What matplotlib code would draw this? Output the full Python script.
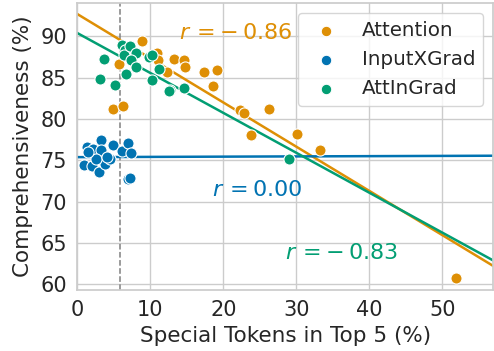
import numpy as np
import matplotlib
matplotlib.use("Agg")
import matplotlib.pyplot as plt
import seaborn as sns

sns.set_theme(style="whitegrid")
plt.rcParams['font.family'] = ['DejaVu Sans']

# Attention
att_x = [8.8, 5.75, 4.85, 6.2, 10.9, 11.1, 12.3, 13.2, 14.6, 14.8, 17.4, 19.1, 18.6,
         22.3, 22.9, 26.3, 23.8, 30.1, 33.3, 51.9]
att_y = [89.4, 86.7, 81.2, 81.6, 88.0, 87.1, 85.7, 87.3, 87.1, 86.3, 85.7, 85.9, 84.0,
         81.1, 80.7, 81.2, 78.1, 78.2, 76.2, 60.8]
# InputXGrad
ixg_x = [1.3, 2.1, 3.3, 3.3, 4.85, 0.95, 2.05, 3.0, 3.8, 4.5, 2.5, 6.1, 6.9, 7.35,
         7.0, 7.2, 1.5, 4.0]
ixg_y = [76.6, 76.4, 77.5, 76.3, 76.85, 74.4, 74.3, 73.6, 74.6, 75.1, 75.2, 76.1, 77.1,
         75.85, 72.7, 72.8, 76.0, 75.4]
# AttInGrad
aig_x = [6.1, 6.5, 6.4, 7.2, 8.1, 7.4, 9.8, 8.1, 6.7, 3.6, 3.1, 5.1, 10.3, 11.2,
         10.2, 12.7, 12.5, 14.6, 29.0]
aig_y = [89.0, 88.4, 87.7, 88.8, 88.0, 87.1, 87.5, 86.3, 85.5, 87.2, 84.8, 84.1, 84.7,
         86.1, 87.7, 83.5, 83.4, 83.7, 75.2]

labels = ["Attention", "InputXGrad", "AttInGrad"]
# fitted trend lines
trend_intercept = [92.7, 75.38, 90.4]
trend_slope = [-0.535, 0.003, -0.483]
r_texts = [r"$r\,= -\:0.86$", r"$r\,= 0.00$", r"$r\,= -\:0.83$"]
r_pos = [(14.0, 90.4), (18.5, 71.4), (28.4, 63.8)]
threshold = 5.8

pal = sns.color_palette("colorblind")
colors = [pal[1], pal[0], pal[2]]

fig = plt.figure(figsize=(4.94, 3.51), dpi=100)
ax = fig.add_axes([0.1565, 0.1738, 0.8421, 0.8168])
ax.set_xlim(0, 57.0)
ax.set_ylim(59.3, 94.0)

series = [(att_x, att_y), (ixg_x, ixg_y), (aig_x, aig_y)]
xs_line = np.array(ax.get_xlim())
for (xs, ys), lab, c in zip(series, labels, colors):
    ax.scatter(xs, ys, s=64, color=c, edgecolor="white", linewidth=0.8, label=lab, zorder=3)
for b, k, c in zip(trend_intercept, trend_slope, colors):
    ax.plot(xs_line, b + k * xs_line, color=c, lw=1.8, zorder=2)

ax.axvline(threshold, color="gray", ls="--", lw=1.1, zorder=1)

for t, (px, py), c in zip(r_texts, r_pos, colors):
    ax.text(px, py, t, color=c, fontsize=16, va="center", ha="left")

ax.set_xticks([0, 10, 20, 30, 40, 50])
ax.set_yticks([60, 65, 70, 75, 80, 85, 90])
ax.tick_params(labelsize=15, pad=7.5, length=0)
ax.set_xlabel("Special Tokens in Top 5 (%)", fontsize=15.5, labelpad=4)
ax.set_ylabel("Comprehensiveness (%)", fontsize=15.5, labelpad=5)
ax.legend(loc="upper right", fontsize=14.3, markerscale=0.95, frameon=True)

fig.savefig("out.png", dpi=100)
